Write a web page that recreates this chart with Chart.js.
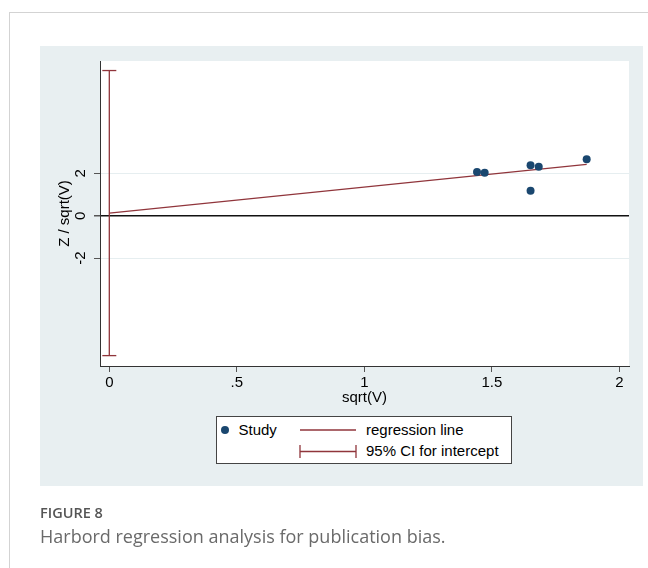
<!DOCTYPE html>
<html><head><meta charset="utf-8">
<script src="https://cdn.jsdelivr.net/npm/chart.js@4.4.1/dist/chart.umd.min.js"></script>
<style>
html,body{margin:0;padding:0;background:#fff;}
body{width:648px;height:568px;position:relative;overflow:hidden;font-family:"Liberation Sans",Arial,sans-serif;}
.abs{position:absolute;}
#frame{left:9px;top:12px;width:700px;height:600px;border-top:1px solid #d3d3d3;border-left:1px solid #d3d3d3;}
#panel{left:40px;top:46px;width:603px;height:440px;background:#e8eff1;}
#chart{left:0;top:0;}
#legend{left:216px;top:416px;width:296px;height:48px;box-sizing:border-box;border:1px solid #444;background:#fff;}
#legsym{left:216px;top:416px;}
.lt{font-size:15px;line-height:15px;color:#000;white-space:nowrap;}
#cap1{left:40px;top:506px;font-family:"Open Sans",sans-serif;font-weight:600;font-size:14.5px;line-height:14.5px;color:#555;white-space:nowrap;}
#cap2{left:40px;top:527px;font-family:"Open Sans",sans-serif;font-size:18px;line-height:18px;color:#6a6a6a;white-space:nowrap;}
</style>
</head>
<body>
<div id="frame" class="abs"></div>
<div id="panel" class="abs"></div>
<canvas id="chart" class="abs" width="648" height="568"></canvas>
<div id="legend" class="abs"></div>
<svg id="legsym" class="abs" width="296" height="48">
  <circle cx="9" cy="14" r="4" fill="#1a476f"/>
  <line x1="84" y1="14" x2="140" y2="14" stroke="#90353b" stroke-width="1.3"/>
  <line x1="84" y1="35.5" x2="140" y2="35.5" stroke="#90353b" stroke-width="1.3"/>
  <line x1="84" y1="29" x2="84" y2="42" stroke="#90353b" stroke-width="1.3"/>
  <line x1="140" y1="29" x2="140" y2="42" stroke="#90353b" stroke-width="1.3"/>
</svg>
<div class="abs lt" style="left:238.5px;top:422px;">Study</div>
<div class="abs lt" style="left:366px;top:422px;">regression line</div>
<div class="abs lt" style="left:366px;top:443px;">95% CI for intercept</div>
<div id="cap1" class="abs">FIGURE 8</div>
<div id="cap2" class="abs">Harbord regression analysis for publication bias.</div>
<script>
// ---- data ----
const sqrtV = [1.442, 1.472, 1.652, 1.684, 1.652, 1.872];
const zOverSqrtV = [2.06, 2.03, 2.38, 2.31, 1.18, 2.67];
const regressionX = [0, 1.872];
const regressionY = [0.12, 2.42];
const ciX = 0;
const ciLower = -6.60;
const ciUpper = 6.85;
const xTicks = [0, 0.5, 1, 1.5, 2];
const xTickLabels = ['0', '.5', '1', '1.5', '2'];
const yTicks = [-2, 0, 2];
const yTickLabels = ['-2', '0', '2'];

const NAVY = '#1a476f', MAROON = '#90353b';
const FONT = {family: '"Liberation Sans", Arial, sans-serif', size: 15};

const studyPts = sqrtV.map((x, i) => ({x: x, y: zOverSqrtV[i]}));
const regPts = regressionX.map((x, i) => ({x: x, y: regressionY[i]}));
const ciPts = [{x: ciX, y: ciLower}, {x: ciX, y: ciUpper}];

const whitePlot = {
  id: 'whitePlot',
  beforeDraw(chart) {
    const a = chart.chartArea, c = chart.ctx;
    c.save(); c.fillStyle = '#fff';
    c.fillRect(a.left, a.top, a.right - a.left, a.bottom - a.top);
    c.restore();
  }
};

new Chart(document.getElementById('chart'), {
  type: 'scatter',
  data: {
    datasets: [
      {label: 'Study', data: studyPts, backgroundColor: NAVY, borderColor: NAVY,
       pointRadius: 4, pointBorderWidth: 0, order: 0},
      {label: 'regression line', data: regPts, showLine: true, borderColor: MAROON,
       borderWidth: 1.3, pointRadius: 0, order: 1},
      {label: '95% CI for intercept', data: ciPts, showLine: true, borderColor: MAROON,
       borderWidth: 1.3, pointStyle: 'line', pointRadius: 7, pointBorderWidth: 1.3,
       pointBorderColor: MAROON, order: 2}
    ]
  },
  options: {
    responsive: false, animation: false,
    layout: {padding: {left: 0, top: 61, right: 19, bottom: 0}},
    plugins: {legend: {display: false}, tooltip: {enabled: false}},
    scales: {
      x: {
        type: 'linear', min: -0.0365, max: 2.038,
        afterBuildTicks: s => { s.ticks = xTicks.map(v => ({value: v})); },
        afterFit: s => { s.height = 202; },
        ticks: {font: FONT, color: '#000', padding: 2, maxRotation: 0, autoSkip: false,
                callback: v => xTickLabels[xTicks.indexOf(v)]},
        grid: {drawOnChartArea: false, drawTicks: true, tickLength: 6, tickColor: '#555'},
        border: {display: true, color: '#333', width: 1},
        title: {display: true, text: 'sqrt(V)', font: FONT, color: '#000', padding: {top: 0, bottom: 161}}
      },
      y: {
        type: 'linear', min: -7.09, max: 7.30,
        afterBuildTicks: s => { s.ticks = yTicks.map(v => ({value: v})); },
        afterFit: s => { s.width = 100; },
        ticks: {font: FONT, color: '#000', padding: 6, minRotation: 90, maxRotation: 90,
                crossAlign: 'center', autoSkip: false,
                callback: v => yTickLabels[yTicks.indexOf(v)]},
        grid: {drawOnChartArea: true, drawTicks: true, tickLength: 6, tickColor: '#555',
               color: c => (c.tick && c.tick.value === 0) ? '#111' : '#e6eef0',
               lineWidth: c => (c.tick && c.tick.value === 0) ? 1.5 : 1},
        border: {display: true, color: '#333', width: 1},
        title: {display: true, text: 'Z / sqrt(V)', font: FONT, color: '#000', padding: {top: 55.5, bottom: 0}}
      }
    }
  },
  plugins: [whitePlot]
});
</script>
</body></html>
